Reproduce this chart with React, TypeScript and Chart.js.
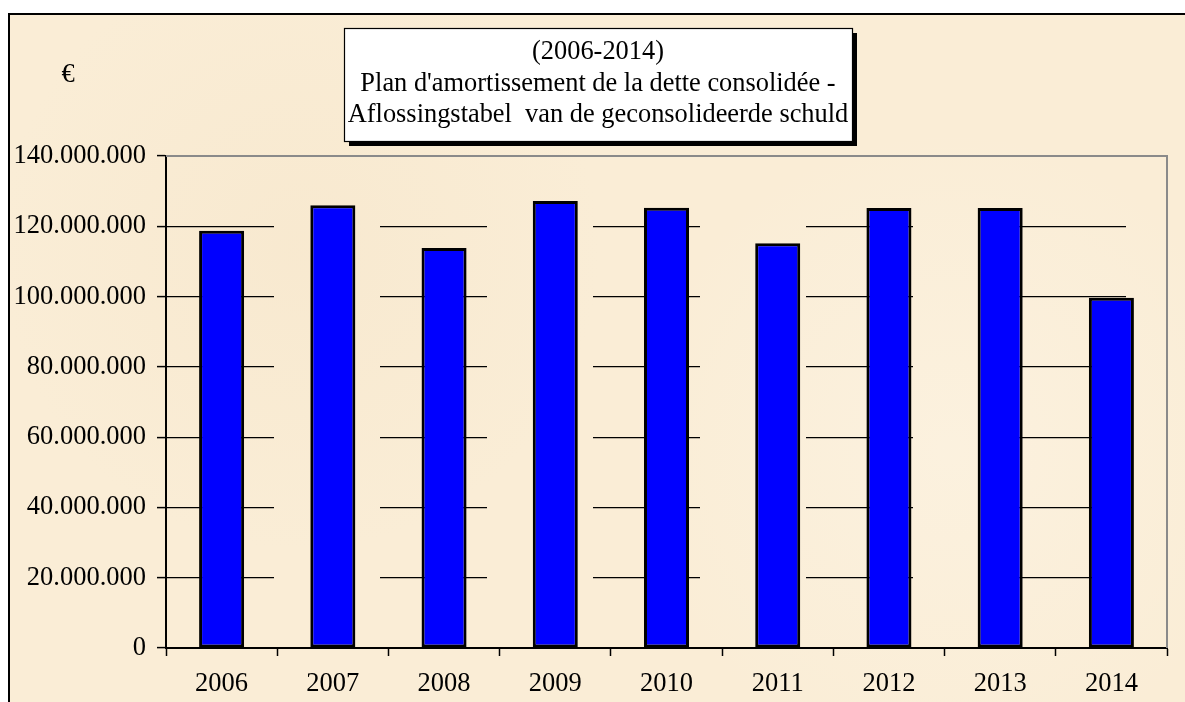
import React, { useEffect, useRef } from "react";
import { Chart, registerables } from "chart.js";

Chart.register(...registerables);

const categories = ["2006", "2007", "2008", "2009", "2010", "2011", "2012", "2013", "2014"];
const amortissement = [118700000, 126000000, 113800000, 127200000, 125300000, 115200000, 125200000, 125200000, 99700000];
const titleLines = ["(2006-2014)", "Plan d'amortissement de la dette consolidée -", "Aflossingstabel  van de geconsolideerde schuld"];
const unitLabel = "€";
const yMax = 140000000;
const yStep = 20000000;

const FONT = '"Liberation Serif", "Times New Roman", serif';

function fmt(v: number): string {
  return Math.round(v).toString().replace(/\B(?=(\d{3})+(?!\d))/g, ".");
}

const decorPlugin = {
  id: "decor",
  beforeDraw(chart: any) {
    const ctx = chart.ctx;
    const w = chart.width;
    const h = chart.height;
    ctx.save();
    ctx.fillStyle = "#ffffff";
    ctx.fillRect(0, 0, w, h);
    ctx.fillStyle = "#FAEDD6";
    ctx.fillRect(9, 14, w, h);
    const g1 = ctx.createRadialGradient(300, 250, 10, 300, 250, 300);
    g1.addColorStop(0, "rgba(244,226,196,0.35)");
    g1.addColorStop(1, "rgba(244,226,196,0)");
    ctx.fillStyle = g1;
    ctx.fillRect(9, 14, w, h);
    const g2 = ctx.createRadialGradient(950, 450, 10, 950, 450, 320);
    g2.addColorStop(0, "rgba(253,245,230,0.5)");
    g2.addColorStop(1, "rgba(253,245,230,0)");
    ctx.fillStyle = g2;
    ctx.fillRect(9, 14, w, h);
    ctx.strokeStyle = "#000";
    ctx.lineWidth = 2;
    ctx.beginPath();
    ctx.moveTo(9, h + 5);
    ctx.lineTo(9, 14);
    ctx.lineTo(w + 5, 14);
    ctx.stroke();
    ctx.restore();
  },
  beforeDatasetsDraw(chart: any) {
    const { ctx, chartArea } = chart;
    ctx.save();
    ctx.strokeStyle = "#8a8a8a";
    ctx.lineWidth = 2;
    ctx.beginPath();
    ctx.moveTo(chartArea.left, chartArea.top);
    ctx.lineTo(chartArea.right, chartArea.top);
    ctx.lineTo(chartArea.right, chartArea.bottom);
    ctx.stroke();
    ctx.restore();
  },
  afterDraw(chart: any) {
    const ctx = chart.ctx;
    ctx.save();
    const bx = 344, by = 28, bw = 508, bh = 113;
    ctx.fillStyle = "#000";
    ctx.fillRect(bx + 5, by + 5, bw, bh);
    ctx.fillStyle = "#fff";
    ctx.fillRect(bx, by, bw, bh);
    ctx.strokeStyle = "#000";
    ctx.lineWidth = 1.2;
    ctx.strokeRect(bx + 0.5, by + 0.5, bw, bh);
    ctx.fillStyle = "#000";
    ctx.font = `26.4px ${FONT}`;
    ctx.textAlign = "center";
    ctx.textBaseline = "alphabetic";
    const baselines = [59, 91, 122];
    titleLines.forEach((t, i) => ctx.fillText(t, bx + bw / 2, baselines[i]));
    ctx.fillText(unitLabel, 68, 82);
    ctx.restore();
  },
};

export default function App() {
  const ref = useRef<HTMLCanvasElement | null>(null);
  useEffect(() => {
    if (!ref.current) return;
    const chart = new Chart(ref.current, {
      type: "bar",
      data: {
        labels: categories,
        datasets: [
          {
            data: amortissement,
            backgroundColor: "#0000FF",
            borderColor: "#000000",
            borderWidth: 3,
            borderSkipped: false,
            barPercentage: 0.405,
            categoryPercentage: 1,
          },
        ],
      },
      options: {
        responsive: false,
        animation: false,
        events: [],
        layout: { padding: { left: 8, right: 18, top: 156, bottom: 0 } },
        plugins: { legend: { display: false }, tooltip: { enabled: false }, title: { display: false } },
        scales: {
          x: {
            grid: {
              offset: true,
              drawOnChartArea: false,
              drawTicks: true,
              tickLength: 8,
              tickColor: "#000",
              tickWidth: 1.5,
            },
            border: { display: true, color: "#000", width: 2 },
            ticks: {
              color: "#000",
              font: { family: FONT, size: 26.5 },
              padding: 12,
              maxRotation: 0,
              autoSkip: false,
            },
            afterFit: (s: any) => {
              s.height = 54;
            },
          },
          y: {
            min: 0,
            max: yMax,
            grid: {
              color: (c: any) => (c.tick && (c.tick.value === 0 || c.tick.value === yMax) ? "rgba(0,0,0,0)" : "#000"),
              lineWidth: 1.2,
              drawTicks: true,
              tickLength: 9,
              tickColor: "#000",
              tickWidth: 1.5,
            },
            border: { display: true, color: "#000", width: 2, dash: [107, 106] },
            ticks: {
              stepSize: yStep,
              color: "#000",
              font: { family: FONT, size: 26.5 },
              padding: 11,
              callback: (v: any) => fmt(Number(v)),
            },
            afterFit: (s: any) => {
              s.width = 158;
            },
          },
        },
      },
      plugins: [decorPlugin],
    });
    return () => chart.destroy();
  }, []);
  return (
    <div style={{ position: "fixed", left: 0, top: 0, width: 1185, height: 702, overflow: "hidden" }}>
      <canvas ref={ref} width={1185} height={702} style={{ width: 1185, height: 702, display: "block" }} />
    </div>
  );
}
